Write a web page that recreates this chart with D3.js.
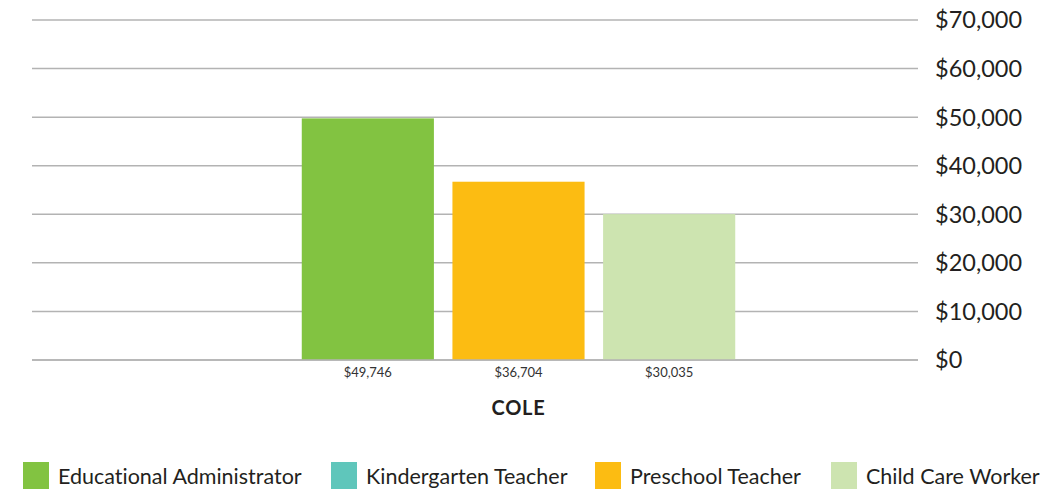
<!DOCTYPE html>
<html>
<head>
<meta charset="utf-8">
<script src="https://cdnjs.cloudflare.com/ajax/libs/d3/7.8.5/d3.min.js"></script>
<style>
  body { margin: 0; background: #fff; }
  text { font-family: Lato, "Open Sans", sans-serif; font-variant-ligatures: none; }
</style>
</head>
<body>
<div id="chart"></div>
<script>
// data
const groups = ['COLE'];
const series = ['Educational Administrator', 'Kindergarten Teacher', 'Preschool Teacher', 'Child Care Worker'];
const colors = ['#82c341', '#5fc6bb', '#fcbc12', '#cde4b0'];
const values = [49746, null, 36704, 30035];   // Kindergarten Teacher: no value
const yTicks = [0, 10000, 20000, 30000, 40000, 50000, 60000, 70000];

const width = 1045, height = 489;
const margin = {top: 20, right: 40, bottom: 129, left: 32};
const gridRight = 918;

const svg = d3.select('#chart').append('svg')
  .attr('width', width)
  .attr('height', height);

const y = d3.scaleLinear()
  .domain([0, 70000])
  .range([height - margin.bottom, margin.top]);

// outer band for the county, spans the plot and the axis labels
const x0 = d3.scaleBand()
  .domain(groups)
  .range([margin.left, width - margin.right]);

const present = series.filter((s, i) => values[i] != null);

// gridlines + right axis
const grid = svg.append('g');
grid.selectAll('line')
  .data(yTicks)
  .enter().append('line')
  .attr('x1', margin.left)
  .attr('x2', gridRight)
  .attr('y1', d => y(d))
  .attr('y2', d => y(d))
  .attr('stroke', '#b3b3b3')
  .attr('stroke-width', 1.5);

const fmt = d3.format('$,');
svg.append('g')
  .selectAll('text')
  .data(yTicks)
  .enter().append('text')
  .attr('x', 935)
  .attr('y', d => y(d))
  .attr('dy', '0.36em')
  .attr('font-size', 23.5)
  .attr('fill', '#231f20')
  .text(d => fmt(d));

// bars
groups.forEach(g => {
  const cx = x0(g) + x0.bandwidth() / 2;
  const x1 = d3.scaleBand()
    .domain(present)
    .range([cx - 226, cx + 226])
    .paddingInner(0.123)
    .paddingOuter(0.0615);

  const bars = series.map((s, i) => ({name: s, value: values[i], color: colors[i]}))
    .filter(d => d.value != null);

  svg.append('g').selectAll('rect')
    .data(bars)
    .enter().append('rect')
    .attr('x', d => x1(d.name))
    .attr('width', x1.bandwidth())
    .attr('y', d => y(d.value))
    .attr('height', d => y(0) - y(d.value))
    .attr('fill', d => d.color);

  svg.append('g').selectAll('text')
    .data(bars)
    .enter().append('text')
    .attr('x', d => x1(d.name) + x1.bandwidth() / 2)
    .attr('y', y(0) + 17)
    .attr('text-anchor', 'middle')
    .attr('font-size', 13)
    .attr('fill', '#333')
    .text(d => fmt(d.value));

  svg.append('text')
    .attr('x', cx)
    .attr('y', y(0) + 55)
    .attr('text-anchor', 'middle')
    .attr('font-size', 20)
    .attr('font-weight', 'bold')
    .attr('letter-spacing', 0.8)
    .attr('fill', '#231f20')
    .text(g);
});

// re-draw zero line on top of bars
svg.append('line')
  .attr('x1', margin.left)
  .attr('x2', gridRight)
  .attr('y1', y(0))
  .attr('y2', y(0))
  .attr('stroke', '#b3b3b3')
  .attr('stroke-width', 1.5);

// legend
const legendX = [23, 331, 595, 831];
const legend = svg.append('g').attr('transform', 'translate(0, 462)');
const item = legend.selectAll('g')
  .data(series)
  .enter().append('g')
  .attr('transform', (d, i) => `translate(${legendX[i]}, 0)`);

item.append('rect')
  .attr('width', 26)
  .attr('height', 27)
  .attr('fill', (d, i) => colors[i]);

item.append('text')
  .attr('x', 35)
  .attr('y', 14)
  .attr('dy', '0.35em')
  .attr('font-size', 21.5)
  .attr('fill', '#231f20')
  .text(d => d);
</script>
</body>
</html>
